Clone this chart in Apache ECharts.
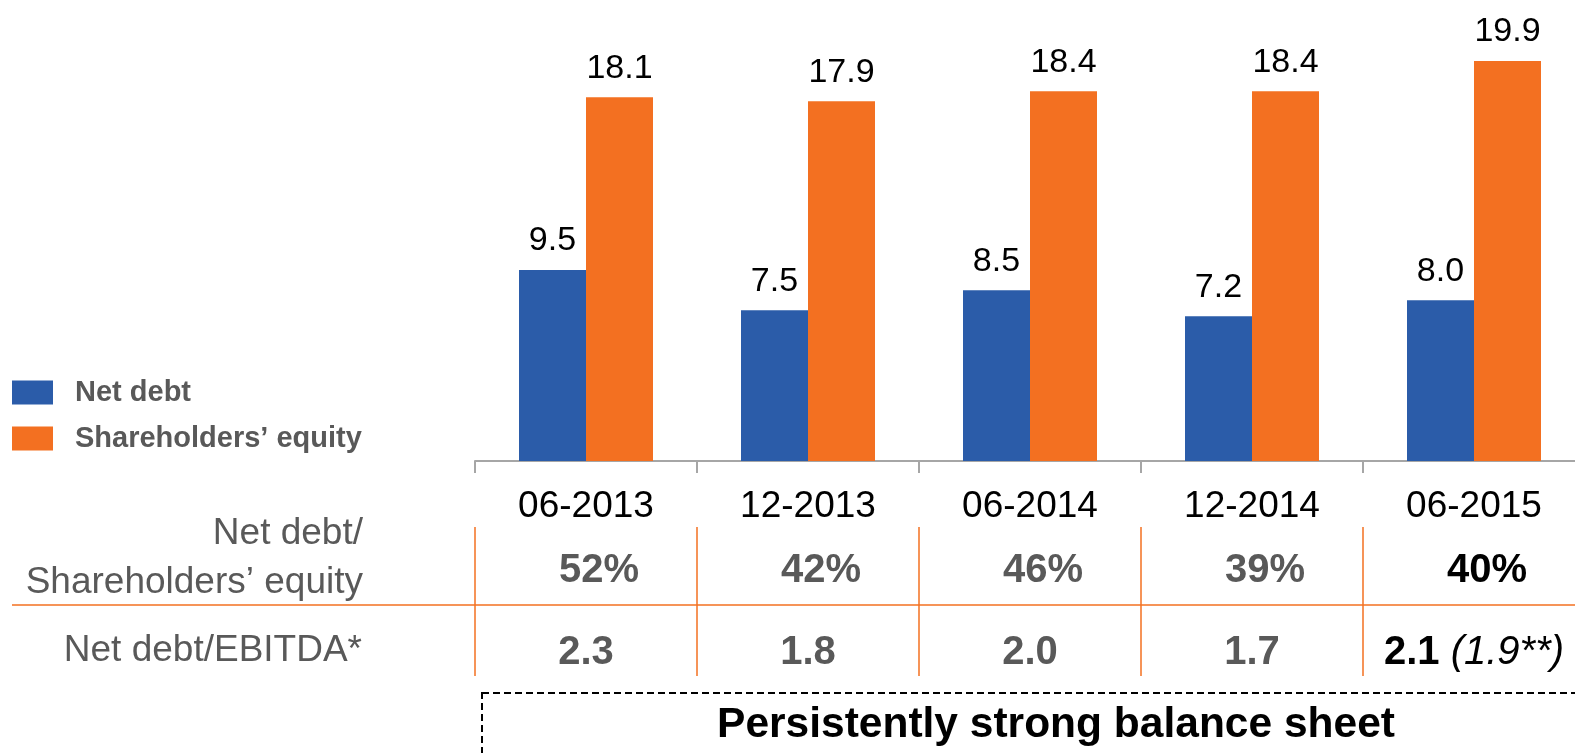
<!DOCTYPE html>
<html>
<head>
<meta charset="utf-8">
<script src="https://cdn.jsdelivr.net/npm/echarts@6/dist/echarts.min.js"></script>
<style>
html,body{margin:0;padding:0;background:#fff;}
#chart{width:1575px;height:753px;}
</style>
</head>
<body>
<div id="chart"></div>
<script>
const categories = ['06-2013', '12-2013', '06-2014', '12-2014', '06-2015'];
const netDebt = [9.5, 7.5, 8.5, 7.2, 8.0];
const equity = [18.1, 17.9, 18.4, 18.4, 19.9];
const debtToEquity = ['52%', '42%', '46%', '39%', '40%'];
const debtToEbitda = ['2.3', '1.8', '2.0', '1.7', '2.1'];
const ebitdaNote = ['', '', '', '', '(1.9**)'];
const highlightIndex = 4;
const seriesNames = ['Net debt', 'Shareholders\u2019 equity'];
const rowLabels = ['Net debt/\nShareholders\u2019 equity', 'Net debt/EBITDA*'];
const boxText = 'Persistently strong balance sheet';

const FONT = '"Liberation Sans", Arial, sans-serif';
const BLUE = '#2B5CA9';
const ORANGE = '#F37021';
const GRAY = '#595959';

const chart = echarts.init(document.getElementById('chart'), null, {renderer: 'canvas'});

const valueLabel = {
  show: true, position: 'top', distance: 12,
  fontFamily: FONT, fontSize: 34, color: '#000',
  formatter: p => p.value.toFixed(1)
};

const option = {
  animation: false,
  backgroundColor: '#fff',
  legend: {
    orient: 'vertical', left: 7, top: 373, itemWidth: 41, itemHeight: 24, itemGap: 17,
    icon: 'rect',
    textStyle: {fontFamily: FONT, fontSize: 29, fontWeight: 'bold', color: GRAY, lineHeight: 29, padding: [0, 0, 0, 17]},
    data: seriesNames
  },
  grid: [
    {left: 475, width: 1110, top: 59, height: 402, containLabel: false, outerBoundsMode: 'none'},
    {left: 475, width: 1110, top: 527, height: 149, containLabel: false, outerBoundsMode: 'none'}
  ],
  xAxis: [
    {
      type: 'category', data: categories, gridIndex: 0,
      axisLine: {lineStyle: {color: '#A6A6A6', width: 2}},
      axisTick: {show: true, length: 12, lineStyle: {color: '#A6A6A6', width: 2}},
      axisLabel: {
        interval: 0, margin: 24, hideOverlap: false,
        formatter: (v, i) => {
          const hi = i === highlightIndex;
          let s = '{cat|' + v + '}\n' + (hi ? '{pctB|' : '{pct|') + debtToEquity[i] + '}\n' +
                  (hi ? '{ebB|' : '{eb|') + debtToEbitda[i] + '}';
          if (ebitdaNote[i]) s += '{it| ' + ebitdaNote[i] + '}';
          return s;
        },
        rich: {
          cat: {fontFamily: FONT, fontSize: 37, color: '#000', lineHeight: 44},
          pct: {fontFamily: FONT, fontSize: 40, fontWeight: 'bold', color: GRAY, lineHeight: 84, padding: [0, 0, 0, 26]},
          pctB: {fontFamily: FONT, fontSize: 40, fontWeight: 'bold', color: '#000', lineHeight: 84, padding: [0, 0, 0, 26]},
          eb: {fontFamily: FONT, fontSize: 40, fontWeight: 'bold', color: GRAY, lineHeight: 80},
          ebB: {fontFamily: FONT, fontSize: 40, fontWeight: 'bold', color: '#000', lineHeight: 80},
          it: {fontFamily: FONT, fontSize: 40, fontStyle: 'italic', color: '#000', lineHeight: 80}
        }
      }
    },
    {
      type: 'category', data: categories, gridIndex: 1,
      axisLine: {show: false}, axisTick: {show: false}, axisLabel: {show: false},
      splitLine: {show: true, lineStyle: {color: ORANGE, width: 1.5}}
    }
  ],
  yAxis: [
    {type: 'value', min: 0, max: 20, gridIndex: 0, show: false, splitLine: {show: false}},
    {type: 'value', min: 0, max: 1, gridIndex: 1, show: false, splitLine: {show: false}}
  ],
  series: [
    {name: seriesNames[0], type: 'bar', data: netDebt, barWidth: 67, barGap: '0%',
     itemStyle: {color: BLUE}, label: valueLabel},
    {name: seriesNames[1], type: 'bar', data: equity, barWidth: 67, barGap: '0%',
     itemStyle: {color: ORANGE}, label: valueLabel}
  ],
  graphic: [
    {type: 'line', shape: {x1: 12, y1: 605, x2: 1575, y2: 605}, style: {stroke: ORANGE, lineWidth: 1.5}},
    {type: 'text', right: 1575 - 363, top: 509, style: {text: rowLabels[0], font: '37px ' + FONT, fill: GRAY, textAlign: 'right', lineHeight: 49}},
    {type: 'text', right: 1575 - 362, top: 632, style: {text: rowLabels[1], font: '37px ' + FONT, fill: GRAY, textAlign: 'right'}},
    {type: 'rect', shape: {x: 482, y: 693, width: 1200, height: 200}, style: {fill: 'none', stroke: '#000', lineWidth: 2, lineDash: [7, 4]}},
    {type: 'text', x: 1056, y: 725, style: {text: boxText, font: 'bold 42.5px ' + FONT, fill: '#000', textAlign: 'center', textVerticalAlign: 'middle'}}
  ]
};
chart.setOption(option);
</script>
</body>
</html>
